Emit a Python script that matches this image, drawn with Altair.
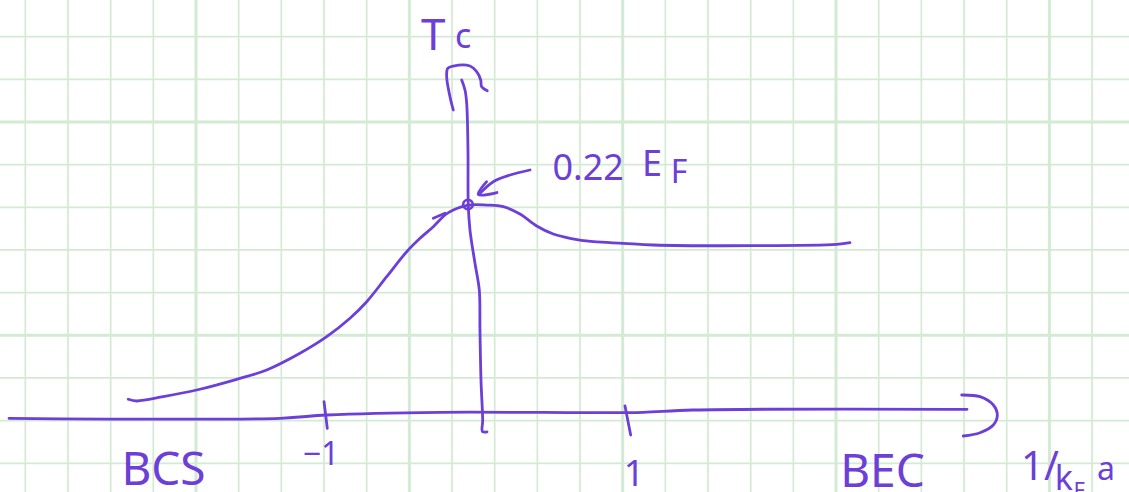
import altair as alt
import pandas as pd

# Coordinates are in squares of the graph paper: u to the right, w upward.
INK = "#6b3fd8"
GRID = "#d3ead3"

# Paper grid
grid_u = list(range(0, 26))
grid_w = list(range(0, 11))
major_u = [4, 9, 14, 19, 24]
major_w = [3, 8]

# T_c versus 1/(k_F a): BCS side rises, peaks, then flattens on the BEC side
curve_u = [2.413, 2.610, 3.233, 4.016, 4.954, 5.657, 6.437, 7.063, 7.609, 8.000,
           8.469, 8.938, 9.250, 9.561, 9.835, 10.030, 10.381, 10.813, 11.202,
           11.593, 11.984, 12.373, 12.765, 13.311, 14.014, 14.717, 17.061,
           19.015, 19.327]
curve_w = [1.500, 1.460, 1.561, 1.718, 1.969, 2.187, 2.578, 2.967, 3.398, 3.787,
           4.373, 4.959, 5.273, 5.545, 5.819, 5.936, 6.053, 6.053, 6.014,
           5.842, 5.561, 5.373, 5.273, 5.193, 5.156, 5.116, 5.100,
           5.132, 5.170]

# small retrace stroke on the rising side
retrace_u = [9.561, 9.835]
retrace_w = [5.742, 5.859]

# horizontal axis, 1/(k_F a)
haxis_u = [-0.383, 5.969, 7.063, 9.718, 13.468, 14.476, 15.648, 22.070]
haxis_w = [1.055, 1.055, 1.132, 1.195, 1.186, 1.195, 1.249, 1.266]
harrow_u = [21.945, 22.374, 22.686, 22.780, 22.686, 22.374, 21.982]
harrow_w = [1.601, 1.561, 1.366, 1.132, 0.898, 0.717, 0.640]

# vertical axis, T_c
vaxis_u = [10.227, 10.304, 10.344, 10.374, 10.381, 10.421, 10.538, 10.639,
           10.655, 10.679, 10.719, 10.714, 10.820]
vaxis_w = [8.983, 8.749, 8.437, 7.336, 6.053, 5.467, 4.687, 4.062,
           3.125, 1.953, 1.015, 0.745, 0.734]
varrow_u = [10.030, 9.952, 9.875, 9.899, 10.030, 10.421, 10.578, 10.672, 10.695, 10.827]
varrow_w = [8.280, 8.592, 9.060, 9.257, 9.311, 9.311, 9.177, 8.983, 8.826, 8.732]

# tick marks at -1 and 1
tick_m1_u = [7.000, 7.077]
tick_m1_w = [1.444, 0.820]
tick_p1_u = [14.054, 14.187]
tick_p1_w = [1.343, 0.663]

# pointer from the annotation to the maximum
pointer_u = [11.827, 11.359, 10.967, 10.656]
pointer_w = [6.874, 6.756, 6.600, 6.328]
pointer_head_u = [10.812, 10.616, 11.054]
pointer_head_w = [6.600, 6.300, 6.346]

# maximum of T_c
peak_u = [10.374]
peak_w = [6.065]

# labels
label_text = ["T", "c", "0.22", "E", "F", "BCS", "\u22121", "1", "BEC", "1/", "k", "F", "a"]
label_u = [9.560, 10.260, 13.190, 14.690, 15.320, 3.238, 6.929, 14.265, 20.088,
           23.780, 24.340, 24.700, 25.326]
label_w = [9.686, 9.733, 6.640, 6.740, 6.570, -0.500, -0.040, -0.530, -0.560,
           -0.391, -0.626, -0.810, -0.391]
label_size = [44, 34, 36, 36, 32, 46, 32, 36, 46, 40, 34, 22, 32]

strokes = [
    ("curve", curve_u, curve_w),
    ("retrace", retrace_u, retrace_w),
    ("haxis", haxis_u, haxis_w),
    ("harrow", harrow_u, harrow_w),
    ("vaxis", vaxis_u, vaxis_w),
    ("varrow", varrow_u, varrow_w),
    ("tick_m1", tick_m1_u, tick_m1_w),
    ("tick_p1", tick_p1_u, tick_p1_w),
    ("pointer", pointer_u, pointer_w),
    ("pointer_head", pointer_head_u, pointer_head_w),
]
rows = []
for name, us, ws in strokes:
    for i, (a, b) in enumerate(zip(us, ws)):
        rows.append({"stroke": name, "i": i, "u": a, "w": b})
ink_df = pd.DataFrame(rows)

xs = alt.Scale(domain=[-0.5936, 25.866], nice=False, zero=False)
ys = alt.Scale(domain=[-0.6726, 10.858], nice=False, zero=False)

vgrid = pd.DataFrame({"u": grid_u, "major": [u in major_u for u in grid_u]})
hgrid = pd.DataFrame({"w": grid_w, "major": [w in major_w for w in grid_w]})

vlines = alt.Chart(vgrid).mark_rule(color=GRID).encode(
    x=alt.X("u:Q", scale=xs, axis=None),
    strokeWidth=alt.condition("datum.major", alt.value(3), alt.value(1.7)),
)
hlines = alt.Chart(hgrid).mark_rule(color=GRID).encode(
    y=alt.Y("w:Q", scale=ys, axis=None),
    strokeWidth=alt.condition("datum.major", alt.value(3), alt.value(1.7)),
)

ink = alt.Chart(ink_df).mark_line(
    color=INK, strokeWidth=2.8, strokeCap="round", strokeJoin="round",
    interpolate="catmull-rom",
).encode(
    x=alt.X("u:Q", scale=xs, axis=None),
    y=alt.Y("w:Q", scale=ys, axis=None),
    detail="stroke:N",
    order="i:Q",
)

peak = alt.Chart(pd.DataFrame({"u": peak_u, "w": peak_w})).mark_point(
    shape="circle", filled=False, size=95, color=INK, strokeWidth=2.5, opacity=1,
).encode(
    x=alt.X("u:Q", scale=xs, axis=None),
    y=alt.Y("w:Q", scale=ys, axis=None),
)

labels_df = pd.DataFrame({"t": label_text, "u": label_u, "w": label_w, "fs": label_size})
labels = alt.Chart(labels_df).mark_text(
    color=INK, font="Noto Sans", align="center", baseline="alphabetic",
).encode(
    x=alt.X("u:Q", scale=xs, axis=None),
    y=alt.Y("w:Q", scale=ys, axis=None),
    text="t:N",
    size=alt.Size("fs:Q", scale=None, legend=None),
)

chart = alt.layer(vlines, hlines, ink, peak, labels).properties(
    width=1129, height=492,
    autosize=alt.AutoSizeParams(type="none"),
    padding=0,
    background="white",
).configure_view(stroke=None)

chart.save("out.html", embed_options={"renderer": "svg", "actions": False})
